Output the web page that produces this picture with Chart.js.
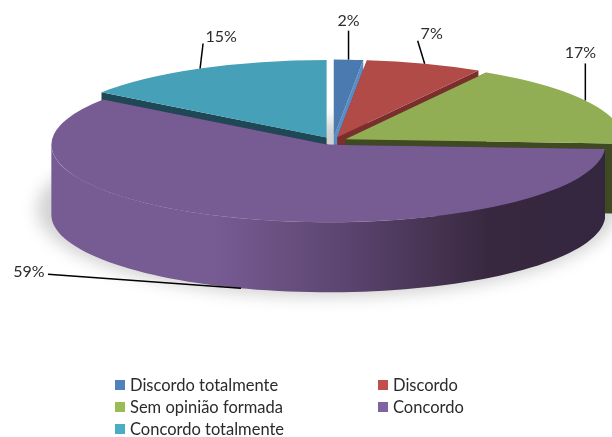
<!DOCTYPE html>
<html>
<head>
<meta charset="utf-8">
<title>Opinião</title>
<script src="https://cdn.jsdelivr.net/npm/chart.js@4"></script>
<style>
  html, body { margin: 0; padding: 0; background: #fff; }
  #wrap { position: relative; width: 612px; height: 437px; overflow: hidden; }
  #legend { position: absolute; left: 115px; top: 374px; display: grid; grid-template-columns: 263px 130px; grid-auto-rows: 22px;
    font: 16.5px Lato, sans-serif; color: #2b2b2b; }
  #legend div { display: flex; align-items: center; white-space: nowrap; }
  #legend i { display: inline-block; width: 10px; height: 10px; margin-right: 5px; }
</style>
</head>
<body>
<div id="wrap">
  <canvas id="pieChart" width="612" height="437"></canvas>
  <div id="legend"></div>
</div>
<script>
const categories = ['Discordo totalmente', 'Discordo', 'Sem opinião formada', 'Concordo', 'Concordo totalmente'];
// labels show them rounded
const percents = [1.7, 6.8, 17.4, 59.0, 15.1];

const legendColors = ['#4f81bd', '#c0504d', '#9bbb59', '#8064a2', '#4bacc6'];
const topColors = ['#4a7ab0', '#b04b48', '#92ae54', '#775c94', '#46a0b8'];
const faceColors = ['#5a8cc4', '#7a2f2d', '#404a22', '#33263f', '#1f4856'];

// where the leader leaves the rim (fraction of the slice), its end and the label centre
const leaderAt = [0.5, 0.5, 0.47, 0.495, 0.5];
const leaderEnds = [[0, -29], [-7, -23], [0, -37], [-193, -14], [3, -25]];
const labelShift = [[0, -10], [14, -7], [-5, -11], [-19, -2], [18, -7]];

const tilt = 0.28;      // vertical squash of the pie
const depth = 70;       // wall height
const explode = 14;     // slice pull-out
const drawOrder = [4, 0, 1, 2, 3];  // back to front

// point on the flattened pie for a slice
function rimPoint(arc, angle, drop) {
  const mid = (arc.startAngle + arc.endAngle) / 2;
  const r = angle === null ? 0 : arc.outerRadius;
  const a = angle === null ? 0 : angle;
  return {
    x: arc.x + Math.cos(mid) * explode + Math.cos(a) * r,
    y: arc.y + (Math.sin(mid) * explode + Math.sin(a) * r) * tilt + drop
  };
}

function drawWalls(ctx, arc, i) {
  const apex = rimPoint(arc, null, 0);
  ctx.fillStyle = faceColors[i];
  [arc.startAngle, arc.endAngle].forEach(a => {
    const p = rimPoint(arc, a, 0);
    ctx.beginPath();
    ctx.moveTo(apex.x, apex.y);
    ctx.lineTo(p.x, p.y);
    ctx.lineTo(p.x, p.y + depth);
    ctx.lineTo(apex.x, apex.y + depth);
    ctx.closePath();
    ctx.fill();
  });

  // outer wall, only the front half of the rim shows
  const from = Math.max(arc.startAngle, 0);
  const to = Math.min(arc.endAngle, Math.PI);
  if (to <= from) return;

  const left = arc.x - arc.outerRadius;
  const width = arc.outerRadius * 2;
  const grad = ctx.createLinearGradient(left, 0, left + width, 0);
  if (i === 3) {
    grad.addColorStop(0, '#775c94');
    grad.addColorStop(0.28, '#775c94');
    grad.addColorStop(0.52, '#5c4570');
    grad.addColorStop(0.78, '#38283f');
    grad.addColorStop(1, '#33263f');
  } else {
    grad.addColorStop(0, faceColors[i]);
    grad.addColorStop(1, faceColors[i]);
  }
  ctx.fillStyle = grad;
  ctx.beginPath();
  const steps = 80;
  for (let s = 0; s <= steps; s++) {
    const p = rimPoint(arc, from + (to - from) * s / steps, 0);
    ctx.lineTo(p.x, p.y);
  }
  for (let s = steps; s >= 0; s--) {
    const p = rimPoint(arc, from + (to - from) * s / steps, depth);
    ctx.lineTo(p.x, p.y);
  }
  ctx.closePath();
  ctx.fill();
}

function drawTop(ctx, arc) {
  const mid = (arc.startAngle + arc.endAngle) / 2;
  ctx.save();
  ctx.translate(arc.x + Math.cos(mid) * explode, arc.y + Math.sin(mid) * explode * tilt);
  ctx.scale(1, tilt);
  ctx.translate(-arc.x, -arc.y);
  arc.draw(ctx);
  ctx.restore();
}

function drawLabels(ctx, arcs) {
  ctx.font = '16px Lato, sans-serif';
  ctx.textAlign = 'center';
  ctx.textBaseline = 'middle';
  arcs.forEach((arc, i) => {
    const a = arc.startAngle + (arc.endAngle - arc.startAngle) * leaderAt[i];
    // the big front slice has its leader on the bottom of the wall
    const start = rimPoint(arc, a, i === 3 ? depth : 0);
    const end = { x: start.x + leaderEnds[i][0], y: start.y + leaderEnds[i][1] };
    ctx.strokeStyle = '#000';
    ctx.lineWidth = 1.5;
    ctx.beginPath();
    ctx.moveTo(start.x, start.y);
    ctx.lineTo(end.x, end.y);
    ctx.stroke();
    ctx.fillStyle = '#2b2b2b';
    ctx.fillText(Math.round(percents[i]) + '%', end.x + labelShift[i][0], end.y + labelShift[i][1]);
  });
}

const pie3d = {
  id: 'pie3d',
  beforeDatasetsDraw(chart) {
    const ctx = chart.ctx;
    const arcs = chart.getDatasetMeta(0).data;
    const c = arcs[0];

    // soft shadow under the pie
    ctx.save();
    ctx.filter = 'blur(8px)';
    ctx.fillStyle = '#d2d2d2';
    ctx.beginPath();
    ctx.ellipse(c.x - 6, c.y + 68, 290, 88, 0, 0, Math.PI * 2);
    ctx.fill();
    ctx.restore();

    drawOrder.forEach(i => {
      drawWalls(ctx, arcs[i], i);
      drawTop(ctx, arcs[i]);
    });
    drawLabels(ctx, arcs);
    return false;
  }
};

new Chart(document.getElementById('pieChart').getContext('2d'), {
  type: 'pie',
  data: {
    labels: categories,
    datasets: [{ data: percents, backgroundColor: topColors, borderWidth: 0 }]
  },
  options: {
    responsive: false,
    animation: false,
    radius: 277,
    layout: { padding: { left: 54, bottom: 155 } },
    plugins: { legend: { display: false }, tooltip: { enabled: false } }
  },
  plugins: [pie3d]
});

// legend in two columns
const legendBox = document.getElementById('legend');
categories.forEach((name, i) => {
  const row = document.createElement('div');
  const box = document.createElement('i');
  box.style.background = legendColors[i];
  row.appendChild(box);
  row.appendChild(document.createTextNode(name));
  legendBox.appendChild(row);
});
</script>
</body>
</html>
